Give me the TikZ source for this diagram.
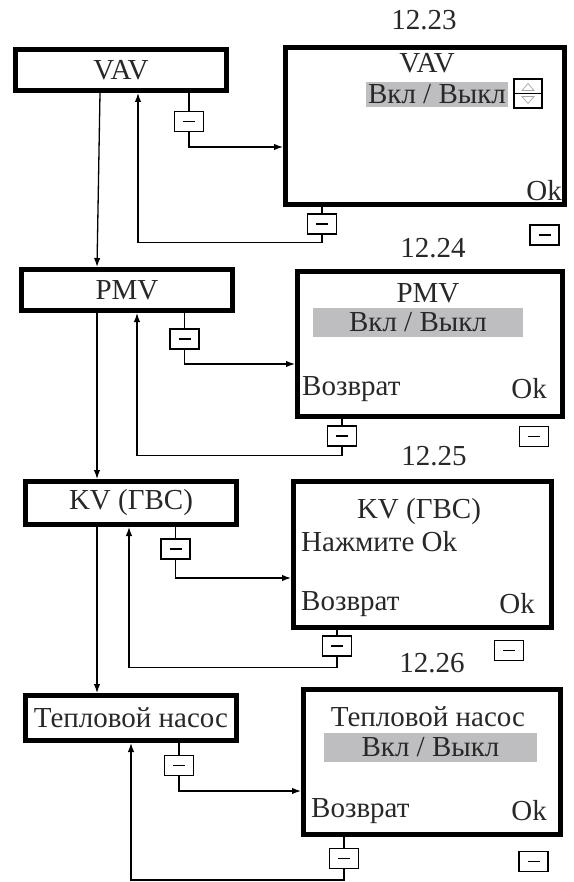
\documentclass[tikz,border=0pt]{standalone}
\usepackage{fontspec}
\setmainfont{Liberation Serif}
\usepackage{tikz}
\usetikzlibrary{arrows.meta,positioning}
\definecolor{barfill}{RGB}{190,190,193}
\definecolor{txt}{RGB}{40,40,40}
\newcommand{\fs}{\fontsize{29pt}{32pt}\selectfont}

\begin{document}
\begin{tikzpicture}[
x=1pt, y=-1pt,
menu/.style={draw, line width=5pt, minimum width=211pt, inner sep=0pt, font=\fs, text=txt},
screen/.style={draw, line width=5pt, inner sep=0pt},
label/.style={inner sep=0pt, font=\fs, text=txt},
bar/.style={fill=barfill, inner sep=0pt, font=\fs, text=txt},
key/.style={draw, line width=1.2pt, minimum width=29pt, minimum height=20pt, inner sep=0pt,
  path picture={\draw[line width=1.6pt] ([xshift=-6pt]path picture bounding box.center) -- ([xshift=6pt]path picture bounding box.center);}},
updn/.style={draw, line width=1.2pt, minimum width=28pt, minimum height=29pt, inner sep=0pt,
  path picture={
    \draw[line width=1.2pt] (path picture bounding box.west) -- (path picture bounding box.east);
    \draw[black!35, line width=0.7pt] ([shift={(-6pt,3pt)}]path picture bounding box.center) -- ([shift={(6pt,3pt)}]path picture bounding box.center) -- ([shift={(0pt,10pt)}]path picture bounding box.center) -- cycle;
    \draw[black!35, line width=0.7pt] ([shift={(-6pt,-3pt)}]path picture bounding box.center) -- ([shift={(6pt,-3pt)}]path picture bounding box.center) -- ([shift={(0pt,-10pt)}]path picture bounding box.center) -- cycle;}},
arrow/.style={-{Latex[length=9pt,width=6.5pt]}, line width=1.3pt},
link/.style={line width=1.3pt}
]
\useasboundingbox (0,0) rectangle (573,882);

\node[label] (t1) at (424,20) {12.23};
\node[menu, minimum height=41pt] (vav) at (121,70) {VAV};
\node[screen, minimum width=279pt, minimum height=157pt] (scr1) at (425,126) {};
\node[label] (vavttl) at (427,63) {VAV};
\node[bar, minimum width=142pt, minimum height=25pt] (bar1) at (437,94.5) {Вкл / Выкл};
\node[updn] (ud1) at (528,93.5) {};
\node[label, anchor=east] (ok1) at (562,191) {Ok};
\node[key] (k1a) at (189,121.5) {};
\node[key] (k1b) at (322,224) {};
\node[key] (k1c) at (544.5,235) {};

\node[label] (t2) at (433,248) {12.24};
\node[menu, minimum height=41pt] (pmv) at (127,290) {PMV};
\node[screen, minimum width=265pt, minimum height=145pt] (scr2) at (430,344) {};
\node[label] (pmvttl) at (428,293) {PMV};
\node[bar, minimum width=210pt, minimum height=29pt] (bar2) at (418,322.5) {Вкл / Выкл};
\node[label, anchor=west] (back2) at (302,389) {Возврат};
\node[label, anchor=east] (ok2) at (547,389) {Ok};
\node[key] (k2a) at (184.5,339) {};
\node[key] (k2b) at (342,436) {};
\node[key] (k2c) at (534,436.5) {};

\node[label] (t3) at (434,456) {12.25};
\node[menu, minimum height=43pt] (kv) at (131,503) {KV (ГВС)};
\node[screen, minimum width=258pt, minimum height=146pt] (scr3) at (422.5,554.5) {};
\node[label] (kvttl) at (419,512) {KV (ГВС)};
\node[label, anchor=west] (press3) at (301,542) {Нажмите Ok};
\node[label, anchor=west] (back3) at (301,604) {Возврат};
\node[label, anchor=east] (ok3) at (535,604) {Ok};
\node[key] (k3a) at (175.5,549) {};
\node[key] (k3b) at (337,646) {};
\node[key] (k3c) at (509,650.5) {};

\node[label] (t4) at (432,663) {12.26};
\node[menu, minimum height=45pt] (teplo) at (131,718) {Тепловой насос};
\node[screen, minimum width=257pt, minimum height=145pt] (scr4) at (432,762) {};
\node[label] (teplottl) at (428,717) {Тепловой насос};
\node[bar, minimum width=213pt, minimum height=29pt] (bar4) at (430.5,747.5) {Вкл / Выкл};
\node[label, anchor=west] (back4) at (311,811) {Возврат};
\node[label, anchor=east] (ok4) at (547,811) {Ok};
\node[key] (k4a) at (179,765.5) {};
\node[key] (k4b) at (344,858.5) {};
\node[key] (k4c) at (533.5,861.5) {};

\draw[arrow] ([xshift=-21pt]vav.south) -- ([xshift=-30pt]pmv.north);
\draw[arrow] ([xshift=-30pt]pmv.south) -- ([xshift=-34pt]kv.north);
\draw[arrow] ([xshift=-34pt]kv.south) -- ([xshift=-34pt]teplo.north);

\draw[link] (vav.south -| k1a) -- (k1a.north);
\draw[arrow] (k1a.south) |- ([yshift=-21pt]scr1.west);
\draw[link] (scr1.south -| k1b) -- (k1b.north);
\draw[arrow] (k1b.south) -- ++(0,8) -| ([xshift=17pt]vav.south);

\draw[link] (pmv.south -| k2a) -- (k2a.north);
\draw[arrow] (k2a.south) |- ([yshift=-20pt]scr2.west);
\draw[link] (scr2.south -| k2b) -- (k2b.north);
\draw[arrow] (k2b.south) -- ++(0,9) -| ([xshift=10pt]pmv.south);

\draw[link] (kv.south -| k3a) -- (k3a.north);
\draw[arrow] (k3a.south) |- ([yshift=-23.5pt]scr3.west);
\draw[link] (scr3.south -| k3b) -- (k3b.north);
\draw[arrow] (k3b.south) -- ++(0,11) -| ([xshift=-2pt]kv.south);

\draw[link] (teplo.south -| k4a) -- (k4a.north);
\draw[arrow] (k4a.south) |- ([yshift=-29pt]scr4.west);
\draw[link] (scr4.south -| k4b) -- (k4b.north);
\draw[arrow] (k4b.south) -- ++(0,11) -| (teplo.south);
\end{tikzpicture}
\end{document}
